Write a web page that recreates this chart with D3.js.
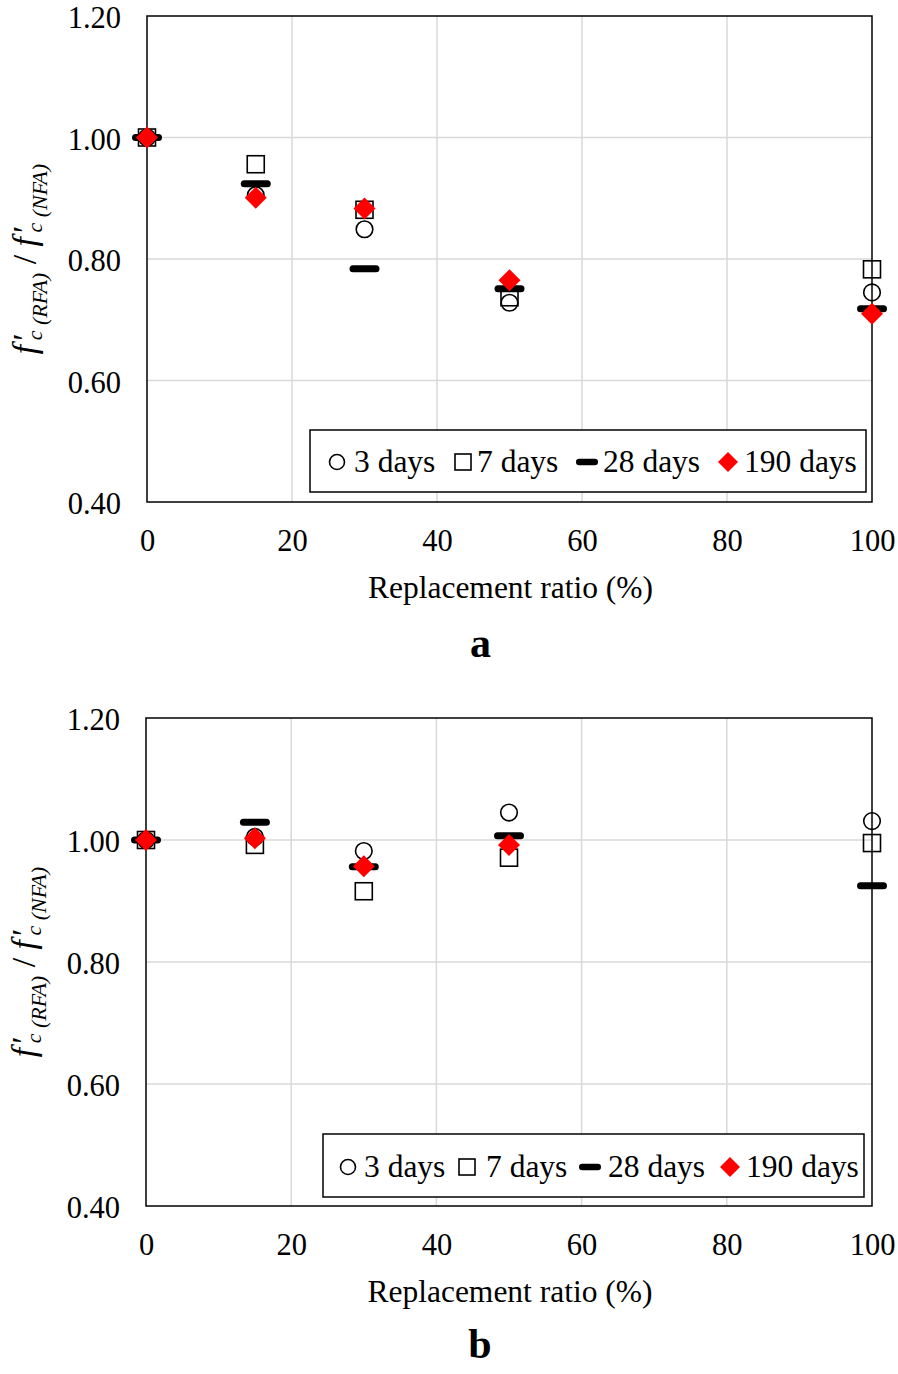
<!DOCTYPE html>
<html><head><meta charset="utf-8">
<script src="https://cdn.jsdelivr.net/npm/d3@7"></script>
<style>
html,body{margin:0;padding:0;background:#fff;}
text{font-family:"Liberation Serif","Times New Roman",serif;fill:#000;}
</style></head>
<body>
<svg id="chart" width="898" height="1374"></svg>
<script>
// ---- data ----
const ratios = [0, 15, 30, 50, 100];
const seriesNames = ["3 days", "7 days", "28 days", "190 days"];
const xTicks = [0, 20, 40, 60, 80, 100];
const yTicks = [0.40, 0.60, 0.80, 1.00, 1.20];
// chart a
const a3 = [1.00, 0.905, 0.849, 0.728, 0.745];
const a7 = [1.00, 0.956, 0.881, 0.737, 0.783];
const a28 = [1.00, 0.924, 0.784, 0.751, 0.718];
const a190 = [1.00, 0.901, 0.883, 0.765, 0.710];
// chart b
const b3 = [1.00, 1.005, 0.982, 1.045, 1.031];
const b7 = [1.00, 0.992, 0.916, 0.971, 0.995];
const b28 = [1.00, 1.029, 0.956, 1.007, 0.925];
const b190 = [1.00, 1.003, 0.957, 0.992, null];

const svg = d3.select("#chart");

function drawChart(cfg) {
  const g = svg.append("g");
  const x = d3.scaleLinear().domain([0, 100]).range([cfg.left, cfg.right]);
  const y = d3.scaleLinear().domain([0.4, 1.2]).range([cfg.bottom, cfg.top]);

  // gridlines
  g.append("g").selectAll("line.vg").data(xTicks.filter(d => d > 0 && d < 100)).join("line")
    .attr("x1", d => x(d)).attr("x2", d => x(d)).attr("y1", y(0.4)).attr("y2", y(1.2))
    .attr("stroke", "#d9d9d9").attr("stroke-width", 1.5);
  g.append("g").selectAll("line.hg").data(yTicks.filter(d => d > 0.4 && d < 1.2)).join("line")
    .attr("x1", x(0)).attr("x2", x(100)).attr("y1", d => y(d)).attr("y2", d => y(d))
    .attr("stroke", "#d9d9d9").attr("stroke-width", 1.5);

  // frame
  g.append("rect").attr("x", x(0)).attr("y", y(1.2)).attr("width", x(100) - x(0)).attr("height", y(0.4) - y(1.2))
    .attr("fill", "none").attr("stroke", "#000").attr("stroke-width", 1.5);

  // axes (labels only, using d3 axes)
  const yAxis = d3.axisLeft(y).tickValues(yTicks).tickFormat(d3.format(".2f")).tickSize(0).tickPadding(26);
  const ya = g.append("g").attr("transform", `translate(${x(0)},0)`).call(yAxis);
  ya.select(".domain").remove();
  ya.selectAll("text").attr("font-size", 30.5).attr("dy", "0.38em").attr("font-family", "Liberation Serif").attr("fill", "#000");

  const xAxis = d3.axisBottom(x).tickValues(xTicks).tickFormat(d3.format("d")).tickSize(0).tickPadding(27);
  const xa = g.append("g").attr("transform", `translate(0,${y(0.4)})`).call(xAxis);
  xa.select(".domain").remove();
  xa.selectAll("text").attr("font-size", 30.5).attr("font-family", "Liberation Serif").attr("fill", "#000");

  // axis title
  g.append("text").attr("x", (x(0) + x(100)) / 2 + 1).attr("y", y(0.4) + 96)
    .attr("text-anchor", "middle").attr("font-size", 31.5).text("Replacement ratio (%)");
  // panel letter
  g.append("text").attr("x", (x(0) + x(100)) / 2 - 29).attr("y", cfg.letterY)
    .attr("text-anchor", "middle").attr("font-size", 42).attr("font-weight", "bold").text(cfg.letter);

  // y title
  const yt = g.append("text").attr("transform", `translate(${cfg.yTitleX},${(y(0.4) + y(1.2)) / 2}) rotate(-90)`)
    .attr("text-anchor", "middle").attr("font-style", "italic").attr("font-size", 34);
  yt.append("tspan").text("f");
  yt.append("tspan").attr("font-style", "normal").attr("dx", 4).text("′");
  yt.append("tspan").attr("font-size", 22).attr("dy", 6).attr("dx", -7).text("c");
  yt.append("tspan").attr("font-size", 22).attr("dy", 5).text(" (RFA)");
  yt.append("tspan").attr("dy", -11).attr("font-style", "normal").text(" / ");
  yt.append("tspan").text("f");
  yt.append("tspan").attr("font-style", "normal").attr("dx", 4).text("′");
  yt.append("tspan").attr("font-size", 22).attr("dy", 6).attr("dx", -7).text("c");
  yt.append("tspan").attr("font-size", 22).attr("dy", 5).text(" (NFA)");

  const pts = (arr) => ratios.map((r, i) => ({ r, v: arr[i] })).filter(d => d.v != null);

  // 28 days bars
  g.append("g").selectAll("rect").data(pts(cfg.s28)).join("rect")
    .attr("x", d => x(d.r) - 15).attr("y", d => y(d.v) - 3.5).attr("width", 30).attr("height", 7)
    .attr("rx", 3.5).attr("fill", "#000");
  // 3 days circles
  g.append("g").selectAll("circle").data(pts(cfg.s3)).join("circle")
    .attr("cx", d => x(d.r)).attr("cy", d => y(d.v)).attr("r", 8.3)
    .attr("fill", "none").attr("stroke", "#000").attr("stroke-width", 1.6);
  // 7 days squares
  g.append("g").selectAll("rect").data(pts(cfg.s7)).join("rect")
    .attr("x", d => x(d.r) - 8.5).attr("y", d => y(d.v) - 8.5).attr("width", 17).attr("height", 17)
    .attr("fill", "none").attr("stroke", "#000").attr("stroke-width", 1.6);
  // 190 days diamonds
  g.append("g").selectAll("path").data(pts(cfg.s190)).join("path")
    .attr("d", d => { const cx = x(d.r), cy = y(d.v), s = 11; return `M${cx},${cy - s}L${cx + s},${cy}L${cx},${cy + s}L${cx - s},${cy}Z`; })
    .attr("fill", "#ff0000");

  // legend
  const L = cfg.legend;
  const lg = g.append("g");
  lg.append("rect").attr("x", L.x0).attr("y", L.y0).attr("width", L.x1 - L.x0).attr("height", L.y1 - L.y0)
    .attr("fill", "#fff").attr("stroke", "#000").attr("stroke-width", 1.5);
  const my = L.base - 10;
  lg.append("circle").attr("cx", L.m[0]).attr("cy", my).attr("r", 7.5).attr("fill", "none").attr("stroke", "#000").attr("stroke-width", 1.6);
  lg.append("rect").attr("x", L.m[1] - 8).attr("y", my - 8).attr("width", 16).attr("height", 16).attr("fill", "none").attr("stroke", "#000").attr("stroke-width", 1.6);
  lg.append("rect").attr("x", L.m[2] - 11).attr("y", my - 3.2).attr("width", 22).attr("height", 6.4).attr("rx", 3.2).attr("fill", "#000");
  lg.append("path").attr("d", `M${L.m[3]},${my - 10}L${L.m[3] + 10},${my}L${L.m[3]},${my + 10}L${L.m[3] - 10},${my}Z`).attr("fill", "#ff0000");
  seriesNames.forEach((n, i) => {
    lg.append("text").attr("x", L.t[i]).attr("y", L.base).attr("font-size", 31.5).text(n);
  });
}

drawChart({
  left: 147, right: 872, top: 16, bottom: 502, letter: "a", letterY: 657, yTitleX: 36,
  s3: a3, s7: a7, s28: a28, s190: a190,
  legend: { x0: 310, x1: 866, y0: 430, y1: 492, base: 472, m: [337, 463, 587, 728], t: [354, 477, 603, 744] }
});
drawChart({
  left: 146, right: 872, top: 718, bottom: 1206, letter: "b", letterY: 1358, yTitleX: 35,
  s3: b3, s7: b7, s28: b28, s190: b190,
  legend: { x0: 323, x1: 864, y0: 1134, y1: 1197, base: 1177, m: [348, 467, 590, 730], t: [364, 486, 608, 746] }
});
</script>
</body></html>
